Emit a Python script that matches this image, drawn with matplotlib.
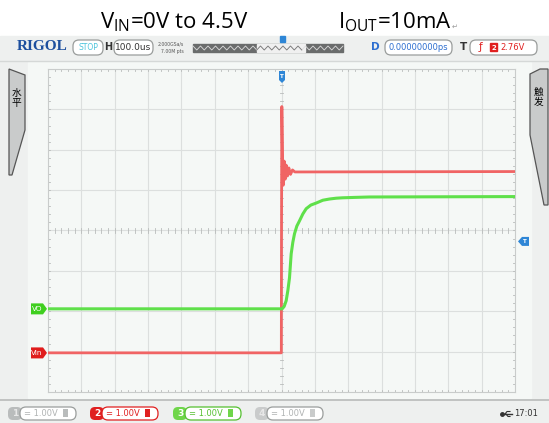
import numpy as np
import matplotlib.pyplot as plt
from matplotlib.patches import FancyBboxPatch, Polygon, Rectangle

plt.rcParams['mathtext.fontset'] = 'custom'
plt.rcParams['mathtext.rm'] = 'Open Sans'

# 水平 100us/div, 垂直 1V/div
t_div = 100.0           # us per division
v_div = 1.0             # V per division
vo_offset = -1.94       # channel 3 (VO) ground, divisions
vin_offset = -3.03      # channel 2 (Vin) ground, divisions
trig_level = 2.76       # V

# VO (channel 3) - green
vo_t = [-700, 2, 8, 14, 19, 24, 29, 34, 39, 46, 54, 64, 74, 88, 104, 124, 144, 164, 183, 220, 263, 700]
vo_v = [0.0, 0.0, 0.06, 0.2, 0.45, 0.77, 1.36, 1.65, 1.86, 2.05, 2.18, 2.35, 2.48, 2.57, 2.62, 2.69, 2.72, 2.74, 2.75, 2.76, 2.77, 2.78]

# Vin (channel 2) - red
vin_t = [-700, -0.5, 0.0, 1.0, 3.0, 5.0, 8.0, 11.0, 14.0, 18.0, 22.0, 27.0, 33.0, 40.0, 700]
vin_v = [0.0, 0.0, 3.0, 6.1, 4.9, 4.15, 4.75, 4.3, 4.65, 4.38, 4.58, 4.42, 4.53, 4.48, 4.49]

fig = plt.figure(figsize=(5.49, 4.23), dpi=100)
fig.patch.set_facecolor('#ffffff')
W, H = 549, 423

# chrome axes in pixel coordinates
bg = fig.add_axes([0, 0, 1, 1], zorder=0)
bg.set_xlim(0, W); bg.set_ylim(H, 0); bg.axis('off')
bg.add_patch(Rectangle((0, 36), W, 387, color='#eef0ef', zorder=0))
bg.add_patch(Rectangle((28, 62), 503, 336, color='#f5f8f6', zorder=1))
bg.plot([0, W], [400, 400], color='#b8bbba', lw=1.2, zorder=2)
bg.plot([0, W], [61, 61], color='#d5d8d7', lw=1.0, zorder=2)

# title
fig.text(174 / W, 1 - 22 / H, r'$\mathregular{V_{IN}}$=0V to 4.5V', fontsize=16,
         family='Open Sans', ha='center', va='center')
fig.text(395 / W, 1 - 22 / H, r'$\mathregular{I_{OUT}}$=10mA', fontsize=16,
         family='Open Sans', ha='center', va='center')
fig.text(452 / W, 1 - 27 / H, '↵', fontsize=5, color='#999999', ha='left', va='center')


def box(x0, x1, y0, y1, ec='#9a9d9c', fc='#ffffff', lw=0.9):
    bg.add_patch(FancyBboxPatch((x0, y0), x1 - x0, y1 - y0,
                                boxstyle='round,pad=0,rounding_size=6',
                                ec=ec, fc=fc, lw=lw, zorder=3))


# toolbar
bg.text(17, 47, 'RIGOL', family='Liberation Serif', weight='bold', fontsize=11,
        color='#1d4f9e', va='center', ha='left', zorder=4)
box(73, 103, 40, 55)
bg.text(88, 47.5, 'STOP', fontsize=5.5, color='#4cc4dc', ha='center', va='center', zorder=4)
bg.text(108, 47.5, 'H', fontsize=7, weight='bold', color='#333333', ha='center', va='center', zorder=4)
box(114, 153, 40, 55)
bg.text(133.5, 47.5, '100.0us', fontsize=6.5, color='#333333', ha='center', va='center', zorder=4)
bg.text(158, 43.5, '2.000GSa/s', fontsize=3.3, color='#555555', ha='left', va='center', zorder=4)
bg.text(161, 51, '7.00M pts', fontsize=3.3, color='#555555', ha='left', va='center', zorder=4)
bg.add_patch(Rectangle((193, 44), 150, 8, color='#6a6c6c', zorder=3))
bg.add_patch(Rectangle((257, 44), 48, 8, color='#f0f0f0', zorder=3))
zx = np.linspace(193, 343, 41)
zy = np.where(np.arange(41) % 2 == 0, 46, 50)
bg.plot(zx, zy, color='#dddddd', lw=0.6, zorder=4)
bg.plot(zx[17:30], zy[17:30], color='#777777', lw=0.6, zorder=5)
bg.add_patch(Rectangle((279.5, 36.5), 5, 6, color='#2e86d6', zorder=5))
bg.text(375, 47.5, 'D', fontsize=7.5, weight='bold', color='#2e6fd0', ha='center', va='center', zorder=4)
box(385, 452, 40, 55)
bg.text(418.5, 47.5, '0.00000000ps', fontsize=6, color='#2e6fd0', ha='center', va='center', zorder=4)
bg.text(463, 47.5, 'T', fontsize=7.5, weight='bold', color='#333333', ha='center', va='center', zorder=4)
box(470, 537, 40, 55)
bg.text(481, 47.5, 'ƒ', fontsize=7.5, color='#e02020', ha='center', va='center', zorder=4)
bg.add_patch(Rectangle((490, 43.5), 7, 8, color='#e02020', zorder=4))
bg.text(493.5, 47.7, '2', fontsize=5, weight='bold', color='white', ha='center', va='center', zorder=5)
bg.text(513, 47.5, '2.76V', fontsize=6, color='#e02020', ha='center', va='center', zorder=4)

# side tabs
bg.add_patch(Polygon([[9, 69], [25, 75], [25, 130], [12, 175], [9, 175]], closed=True,
                     fc='#c9cbcb', ec='#555555', lw=0.9, zorder=3))
bg.text(16, 98, '水\n平', family=['Noto Sans CJK SC', 'DejaVu Sans'], fontsize=7,
        ha='center', va='center', linespacing=1.1, zorder=4)
bg.add_patch(Polygon([[540, 69], [530, 74], [530, 135], [544, 205], [548, 205], [548, 69]], closed=True,
                     fc='#c9cbcb', ec='#555555', lw=0.9, zorder=3))
bg.text(539, 97, '触\n发', family=['Noto Sans CJK SC', 'DejaVu Sans'], fontsize=7,
        ha='center', va='center', linespacing=1.1, zorder=4)

# bottom channel bar
chans = [('1', 8, '#b9bcbc', '#b0b3b3', '#9a9d9c'), ('2', 90, '#e02020', '#e02020', '#e02020'),
         ('3', 173, '#6fd64a', '#55c030', '#55c030'), ('4', 255, '#c9cbcb', '#b0b3b3', '#9a9d9c')]
for num, x0, fc, tc, ec in chans:
    bg.add_patch(FancyBboxPatch((x0, 407), 14, 13, boxstyle='round,pad=0,rounding_size=5',
                                fc=fc, ec='none', zorder=3))
    bg.text(x0 + 7, 413.5, num, fontsize=6.5, weight='bold',
            color='white' if num in '23' else '#e8e8e8', ha='center', va='center', zorder=4)
    box(x0 + 12, x0 + 68, 407, 420, ec=ec)
    bg.text(x0 + 33, 413.5, '= 1.00V', fontsize=6, color=tc, ha='center', va='center', zorder=4)
    bg.add_patch(Rectangle((x0 + 55, 409.5), 5, 8, fc=fc, ec='none', zorder=4))
bg.text(526, 414, '17:01', fontsize=6, color='#333333', ha='center', va='center', zorder=4)
# usb icon
bg.plot([502, 512], [414, 414], color='#333333', lw=1.0, zorder=4)
bg.plot([502], [414], 'o', ms=2.5, color='#333333', zorder=4)
bg.plot([505, 507, 510], [414, 411.5, 411.5], color='#333333', lw=0.8, zorder=4)
bg.plot([506, 508, 510], [414, 416.5, 416.5], color='#333333', lw=0.8, zorder=4)

# scope screen
left, right, top, bottom = 48, 515, 69, 392
ax = fig.add_axes([left / W, 1 - bottom / H, (right - left) / W, (bottom - top) / H], zorder=1)
ax.set_facecolor('#f5f8f6')
ax.set_xlim(-7 * t_div, 7 * t_div)
ax.set_ylim(-4, 4)
ax.set_xticks([]); ax.set_yticks([])
for s in ax.spines.values():
    s.set_color('#c9cccb'); s.set_linewidth(0.8)
for k in range(-6, 7):
    ax.axvline(k * t_div, color='#dcdfde', lw=0.8, zorder=1)
for k in range(-3, 4):
    ax.axhline(k, color='#dcdfde', lw=0.8, zorder=1)
# small ticks
mx = np.arange(-7 * t_div, 7 * t_div + 1, t_div / 5)
my = np.arange(-4, 4.01, 0.2)
for x in mx:
    for y0, L in [(4, -0.06), (-4, 0.06), (0, 0.05)]:
        ax.plot([x, x], [y0, y0 + L] if y0 else [-L, L], color='#b9bcbb', lw=0.6, zorder=1)
for y in my:
    for x0, L in [(-7 * t_div, 6), (7 * t_div, -6), (0, 5)]:
        ax.plot([x0, x0 + L] if x0 else [-L, L], [y, y], color='#b9bcbb', lw=0.6, zorder=1)

vo_y = np.array(vo_v) / v_div + vo_offset
vin_y = np.array(vin_v) / v_div + vin_offset
ax.plot(vin_t, vin_y, color='#f06464', lw=2.0, zorder=3, solid_joinstyle='round')
ax.plot(vo_t, vo_y, color='#5fe04a', lw=2.2, zorder=3, solid_joinstyle='round')

# channel and trigger markers (overlay)
ov = fig.add_axes([0, 0, 1, 1], zorder=2)
ov.set_xlim(0, W); ov.set_ylim(H, 0); ov.axis('off')
ov.patch.set_alpha(0)


def px_y(v):
    return 230.5 - v * 40.4


for lab, yv, col in [('VO', vo_offset, '#3fcf1f'), ('Vin', vin_offset, '#e01c1c')]:
    y = px_y(yv)
    ov.add_patch(Polygon([[31, y - 5.5], [43, y - 5.5], [47, y], [43, y + 5.5], [31, y + 5.5]],
                         closed=True, fc=col, ec='none'))
    ov.text(37, y + 0.3, lab, fontsize=5.2, color='white', ha='center', va='center')
ty = px_y(vin_offset + trig_level / v_div)
ov.add_patch(Polygon([[518, ty], [522, ty - 4.5], [529, ty - 4.5], [529, ty + 4.5], [522, ty + 4.5]],
                     closed=True, fc='#2e86d6', ec='none'))
ov.text(524.5, ty, 'T', fontsize=4, color='white', ha='center', va='center', weight='bold')
ov.add_patch(Polygon([[279, 71], [285, 71], [285, 80], [282, 83], [279, 80]],
                     closed=True, fc='#2e86d6', ec='none'))
ov.text(282, 76, 'T', fontsize=4, color='white', ha='center', va='center', weight='bold')

fig.savefig('out.png', dpi=100)
